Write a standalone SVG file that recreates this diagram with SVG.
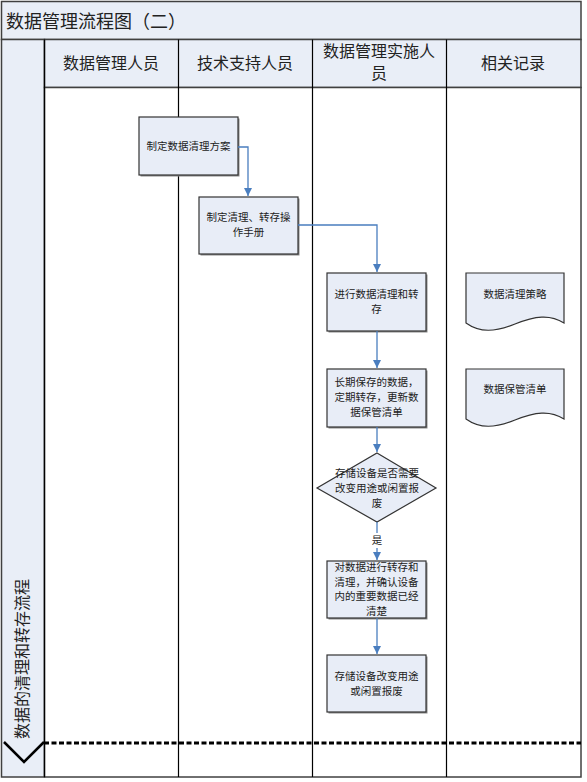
<svg xmlns="http://www.w3.org/2000/svg" width="587" height="782" viewBox="0 0 587 782">
<style>
.lane{stroke:#000;stroke-width:1.2;fill:none}
.band{fill:#E9EEF7;stroke:#404040;stroke-width:1.5}
.hd{font-family:"Noto Sans CJK SC","Noto Sans",sans-serif;font-size:16px;fill:#222;text-anchor:middle}
.box{fill:#E8EDF7;stroke:#333;stroke-width:1.2}
.sh{fill:#8a8a8a}
.t{font-family:"Noto Sans CJK SC","Noto Sans",sans-serif;font-size:10.5px;fill:#222;text-anchor:middle}
.conn{stroke:#4A7EBF;stroke-width:1.3;fill:none}
</style>
<defs>
<marker id="ah" markerUnits="userSpaceOnUse" markerWidth="9" markerHeight="9" refX="8" refY="4" orient="auto">
<path d="M0,0 L8,4 L0,8 z" fill="#4A7EBF"/>
</marker>
</defs>
<rect x="0" y="0" width="587" height="782" fill="#fff"/>
<g id="frame">
<rect class="band" x="1.5" y="1.5" width="579.5" height="38"/>
<text x="6" y="28" font-family="'Noto Sans CJK SC','Noto Sans',sans-serif" font-size="18" fill="#222">数据管理流程图（二）</text>
<rect class="band" x="1.5" y="39.5" width="43" height="737.5"/>
<rect class="band" x="44.5" y="39.5" width="536.5" height="48"/>
<rect x="44.5" y="87.5" width="536.5" height="689.5" fill="#fff" stroke="#404040" stroke-width="1.5"/>
<line class="lane" x1="44.5" y1="39.5" x2="44.5" y2="777"/>
<line class="lane" x1="178.5" y1="39.5" x2="178.5" y2="777"/>
<line class="lane" x1="312.5" y1="39.5" x2="312.5" y2="777"/>
<line class="lane" x1="446.5" y1="39.5" x2="446.5" y2="777"/>
<text class="hd" x="111" y="69">数据管理人员</text>
<text class="hd" x="245" y="69">技术支持人员</text>
<text class="hd" x="379" y="57" font-size="15.5">数据管理实施人</text>
<text class="hd" x="379" y="79" font-size="15.5">员</text>
<text class="hd" x="513" y="69">相关记录</text>
<text class="hd" transform="translate(28,659) rotate(-90)" x="0" y="0">数据的清理和转存流程</text>
<line x1="44" y1="743" x2="581" y2="743" stroke="#000" stroke-width="3" stroke-dasharray="5,2.5"/>
<polyline points="4,742 24,762 44,742" fill="none" stroke="#000" stroke-width="2.5"/>
</g>
<g id="n1">
<rect class="sh" x="140.5" y="118.5" width="99" height="58"/>
<rect class="box" x="139" y="117" width="99" height="58"/>
<text class="t" x="188.5" y="150">制定数据清理方案</text>
</g>
<g id="n2">
<rect class="sh" x="200.5" y="198.5" width="99" height="57"/>
<rect class="box" x="199" y="197" width="99" height="57"/>
<text class="t" x="248.5" y="221">制定清理、转存操</text>
<text class="t" x="248.5" y="236">作手册</text>
</g>
<g id="n3">
<rect class="sh" x="328.5" y="274.5" width="99" height="58"/>
<rect class="box" x="327" y="273" width="99" height="58"/>
<text class="t" x="376.5" y="298">进行数据清理和转</text>
<text class="t" x="376.5" y="313">存</text>
</g>
<g id="n4">
<rect class="sh" x="328.5" y="370.5" width="99" height="58"/>
<rect class="box" x="327" y="369" width="99" height="58"/>
<text class="t" x="376.5" y="386">长期保存的数据，</text>
<text class="t" x="376.5" y="401">定期转存，更新数</text>
<text class="t" x="376.5" y="416">据保管清单</text>
</g>
<g id="n5">
<polygon class="box" points="377,453 436,488 377,522 317,488"/>
<text class="t" x="377" y="477">存储设备是否需要</text>
<text class="t" x="377" y="492">改变用途或闲置报</text>
<text class="t" x="377" y="507">废</text>
</g>
<g id="n6">
<rect class="sh" x="328.5" y="562.5" width="99" height="57"/>
<rect class="box" x="327" y="561" width="99" height="57"/>
<text class="t" x="376.5" y="571">对数据进行转存和</text>
<text class="t" x="376.5" y="585.5">清理，并确认设备</text>
<text class="t" x="376.5" y="600">内的重要数据已经</text>
<text class="t" x="376.5" y="614.5">清楚</text>
</g>
<g id="n7">
<rect class="sh" x="328.5" y="656.5" width="99" height="57"/>
<rect class="box" x="327" y="655" width="99" height="57"/>
<text class="t" x="376.5" y="680">存储设备改变用途</text>
<text class="t" x="376.5" y="695">或闲置报废</text>
</g>
<g id="d1">
<path class="box" d="M466,273 H564 V323 C550,314 535,316 515,324 C495,332 480,333 466,323 Z"/>
<text class="t" x="515" y="298">数据清理策略</text>
</g>
<g id="d2">
<path class="box" d="M466,369 H564 V419 C550,410 535,412 515,420 C495,428 480,429 466,419 Z"/>
<text class="t" x="515" y="393">数据保管清单</text>
</g>
<g id="connectors">
<path class="conn" d="M238,147 H248 V196" marker-end="url(#ah)"/>
<path class="conn" d="M298,225 H377 V272" marker-end="url(#ah)"/>
<path class="conn" d="M377,331 V368" marker-end="url(#ah)"/>
<path class="conn" d="M377,427 V452" marker-end="url(#ah)"/>
<path class="conn" d="M377,522 V533"/>
<text class="t" x="377" y="544">是</text>
<path class="conn" d="M377,548 V560" marker-end="url(#ah)"/>
<path class="conn" d="M377,618 V654" marker-end="url(#ah)"/>
</g>
</svg>
